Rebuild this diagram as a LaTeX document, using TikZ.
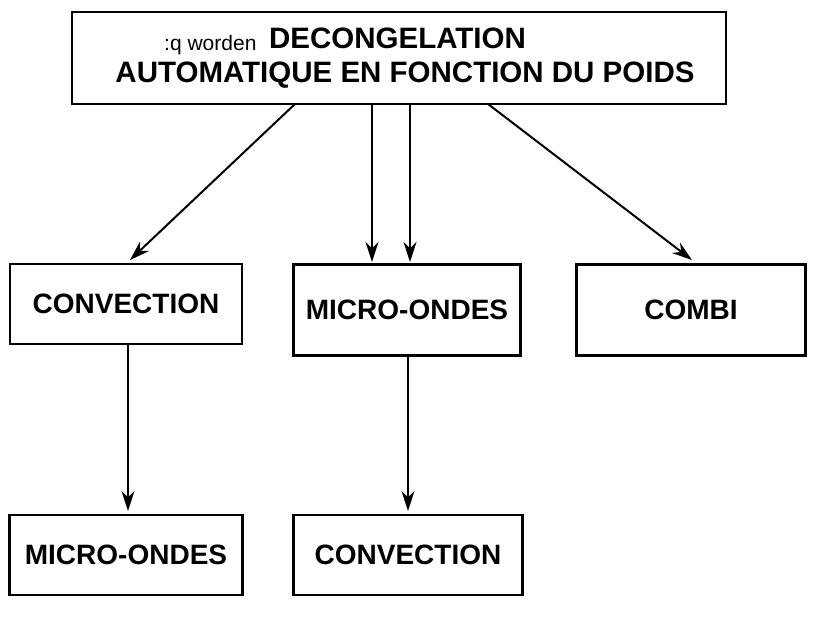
\documentclass[tikz,border=0pt]{standalone}
\usepackage{fontspec}
\setmainfont{Liberation Sans}
\usetikzlibrary{arrows.meta}
\begin{document}
\begin{tikzpicture}[x=1pt,y=-1pt,
 box/.style={draw,line width=2.4pt,inner sep=0pt,font=\bfseries\fontsize{28}{32}\selectfont},
 arr/.style={line width=2pt,-{Stealth[length=20pt,width=13pt]}}]
\useasboundingbox (0,0) rectangle (815,618);
\node[box,minimum width=654,minimum height=92] (top) at (399,58) {};
\node[font=\bfseries\fontsize{29.5}{34}\selectfont,align=center] (title) at (405,58) {\hspace*{90pt}DECONGELATION\hspace*{105pt}\\AUTOMATIQUE EN FONCTION DU POIDS};
\node[font=\fontsize{21}{24}\selectfont,anchor=east] (frag) at (260,45) {:q worden};
\node[box,minimum width=232,minimum height=80] (c1) at (126,304) {CONVECTION};
\node[box,minimum width=227,minimum height=91] (m1) at (407,310) {MICRO-ONDES};
\node[box,minimum width=229,minimum height=91] (cb) at (691,310) {COMBI};
\node[box,minimum width=233,minimum height=80] (m2) at (126,555) {MICRO-ONDES};
\node[box,minimum width=229,minimum height=80] (c2) at (408,555) {CONVECTION};
\coordinate (t1) at (295,104); \coordinate (t2) at (372,104);
\coordinate (t3) at (410,104); \coordinate (t4) at (488,104);
\draw[arr] (t1) -- (130,260);
\draw[arr] (t2) -- (372,262);
\draw[arr] (t3) -- (410,262);
\draw[arr] (t4) -- (692,260);
\draw[arr] (c1.south -| 128,0) -- (128,511);
\draw[arr] (m1.south -| 408,0) -- (408,511);
\end{tikzpicture}
\end{document}
